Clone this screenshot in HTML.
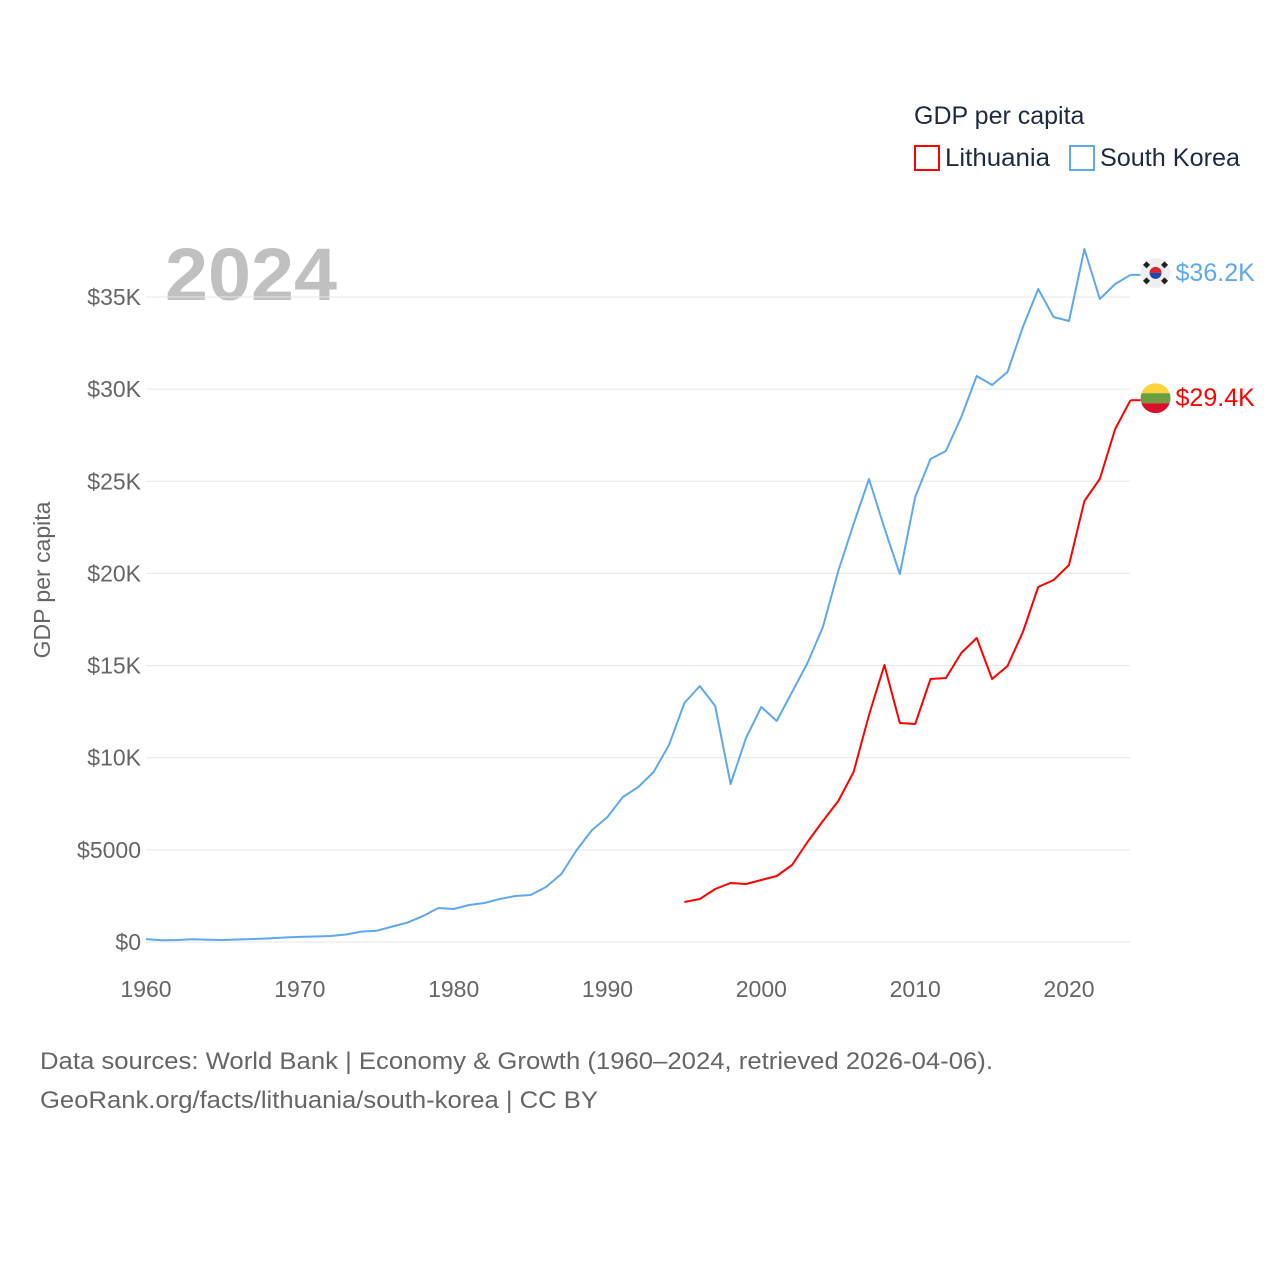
<!DOCTYPE html>
<html><head><meta charset="utf-8"><style>
body{margin:0;background:#fff;font-family:"Liberation Sans",sans-serif;}
svg{display:block}
</style></head><body>
<svg id="chart" width="1280" height="1280" viewBox="0 0 1280 1280">
<text x="914" y="124" font-size="25" fill="#1e2a44">GDP per capita</text>
<g><rect x="915" y="146" width="24" height="24" fill="none" stroke="#f00" stroke-width="2"/><text x="945" y="166" font-size="25" fill="#1e2a44" textLength="105" lengthAdjust="spacingAndGlyphs">Lithuania</text></g>
<g><rect x="1070" y="146" width="24" height="24" fill="none" stroke="#5fa8ee" stroke-width="2"/><text x="1100" y="166" font-size="25" fill="#1e2a44" textLength="140" lengthAdjust="spacingAndGlyphs">South Korea</text></g>
<text x="165" y="300" font-size="74" font-weight="bold" fill="#c0c0c0" textLength="172" lengthAdjust="spacingAndGlyphs">2024</text>
<text transform="translate(50,580) rotate(-90)" text-anchor="middle" font-size="23" fill="#666">GDP per capita</text>
<g id="grid"></g><g id="series"></g>
<text x="40" y="1069" font-size="24" fill="#666" textLength="953" lengthAdjust="spacingAndGlyphs">Data sources: World Bank | Economy &amp; Growth (1960–2024, retrieved 2026-04-06).</text>
<text x="40" y="1108" font-size="24" fill="#666" textLength="558" lengthAdjust="spacingAndGlyphs">GeoRank.org/facts/lithuania/south-korea | CC BY</text>
</svg>
<script>
const yTicks=[0,5000,10000,15000,20000,25000,30000,35000];
const yTickLabels=["$0","$5000","$10K","$15K","$20K","$25K","$30K","$35K"];
const xTicks=[1960,1970,1980,1990,2000,2010,2020];
const koreaYears=[1960,1961,1962,1963,1964,1965,1966,1967,1968,1969,1970,1971,1972,1973,1974,1975,1976,1977,1978,1979,1980,1981,1982,1983,1984,1985,1986,1987,1988,1989,1990,1991,1992,1993,1994,1995,1996,1997,1998,1999,2000,2001,2002,2003,2004,2005,2006,2007,2008,2009,2010,2011,2012,2013,2014,2015,2016,2017,2018,2019,2020,2021,2022,2023,2024];
const koreaValues=[160,94,106,146,124,109,133,161,198,243,279,301,324,407,563,615,834,1055,1405,1845,1790,2008,2116,2333,2496,2550,2984,3690,4992,6077,6783,7868,8410,9224,10690,12968,13891,12805,8573,11069,12751,11991,13565,15139,17092,20131,22681,25122,22464,19968,24146,26208,26642,28487,30712,30223,30928,33370,35432,33913,33696,37603,34890,35703,36200];
const lithYears=[1995,1996,1997,1998,1999,2000,2001,2002,2003,2004,2005,2006,2007,2008,2009,2010,2011,2012,2013,2014,2015,2016,2017,2018,2019,2020,2021,2022,2023,2024];
const lithValues=[2170,2333,2876,3201,3147,3364,3581,4178,5426,6565,7650,9224,12317,15030,11883,11829,14270,14325,15681,16495,14270,14976,16821,19263,19642,20456,23929,25122,27836,29400];
const NS="http://www.w3.org/2000/svg";
const X=y=>146+(y-1960)*923/60;
const Y=v=>942-v*645/35000;
function mk(tag,attrs,parent,text){const e=document.createElementNS(NS,tag);for(const k in attrs)e.setAttribute(k,attrs[k]);if(text!==undefined)e.textContent=text;parent.appendChild(e);return e;}
const grid=document.getElementById('grid'),ser=document.getElementById('series');
yTicks.forEach((t,i)=>{
 const l=mk('line',{x1:146,x2:1130,y1:Y(t),y2:Y(t),stroke:'#e6e6e6','stroke-width':1},grid);
 
 
 const tx=mk('text',{x:141,y:Y(t)+8,'text-anchor':'end','font-size':23,fill:'#666'},grid,yTickLabels[i]);
 
 
});
xTicks.forEach(t=>{
 const tx=mk('text',{x:X(t),y:997,'text-anchor':'middle','font-size':23,fill:'#666'},grid,String(t));
 
 
});
function line(years,vals,color,name){
 const d=years.map((y,i)=>(i?'L':'M')+X(y).toFixed(1)+' '+Y(vals[i]).toFixed(1)).join(' ');
 const p=mk('path',{d:d,fill:'none',stroke:color,'stroke-width':2,'stroke-linejoin':'round'},ser);
 
 
 const lx=X(years[years.length-1]),ly=Y(vals[vals.length-1]);
 const c=mk('line',{x1:lx,x2:lx+10,y1:ly,y2:ly,stroke:color,'stroke-width':2},ser);
 
 
 return [lx+25,ly-2];
}
const [kx,ky]=line(koreaYears,koreaValues,'#5fa8ee','south-korea-line');
const [lx,ly]=line(lithYears,lithValues,'#ff0000','lithuania-line');
const kf=mk('g',{},ser);
mk('circle',{cx:kx,cy:ky,r:15,fill:'#efefef'},kf);
mk('path',{d:`M${kx-6} ${ky} A6 6 0 0 1 ${kx+6} ${ky} Z`,fill:'#e0202a'},kf);
mk('path',{d:`M${kx-6} ${ky} A6 6 0 0 0 ${kx+6} ${ky} Z`,fill:'#1a4bb0'},kf);
[[-9,-8],[9,-8],[-9,8],[9,8]].forEach(([dx,dy])=>mk('rect',{x:kx+dx-2.5,y:ky+dy-2.5,width:5,height:5,fill:'#222',transform:`rotate(${dx*dy>0?-45:45} ${kx+dx} ${ky+dy})`},kf));
const kt=mk('text',{x:kx+20,y:ky+8,'font-size':25,fill:'#5fa8ee'},ser,'$'+(koreaValues[koreaValues.length-1]/1000).toFixed(1)+'K');


const lf=mk('g',{},ser);
mk('clipPath',{id:'lc'},lf);mk('circle',{cx:lx,cy:ly,r:15},lf.lastChild);
mk('rect',{x:lx-15,y:ly-15,width:30,height:10,fill:'#fdd33d','clip-path':'url(#lc)'},lf);
mk('rect',{x:lx-15,y:ly-5,width:30,height:10,fill:'#6a9e3f','clip-path':'url(#lc)'},lf);
mk('rect',{x:lx-15,y:ly+5,width:30,height:10,fill:'#d8102c','clip-path':'url(#lc)'},lf);
const lt=mk('text',{x:lx+20,y:ly+8,'font-size':25,fill:'#ff0000'},ser,'$'+(lithValues[lithValues.length-1]/1000).toFixed(1)+'K');


</script>
</body></html>
